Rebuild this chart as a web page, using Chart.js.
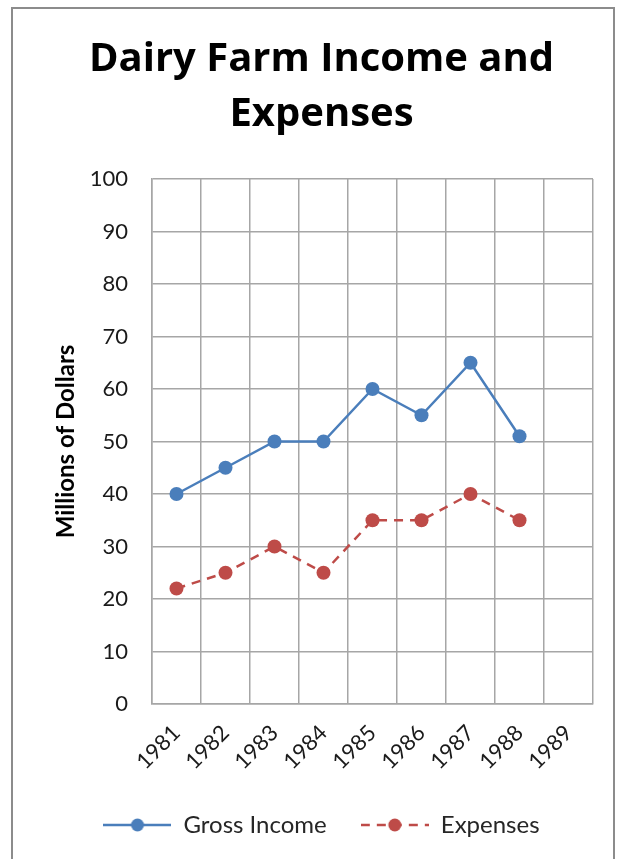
<!DOCTYPE html>
<html>
<head>
<meta charset="utf-8">
<script src="https://cdn.jsdelivr.net/npm/chart.js@4/dist/chart.umd.min.js"></script>
<style>
  html, body { margin: 0; padding: 0; background: #ffffff; }
  #wrap { position: relative; width: 626px; height: 859px; overflow: hidden; }
  #frame { position: absolute; left: 11px; top: 7px; width: 600px; height: 900px; border: 2px solid #8c8c8c; pointer-events: none; }
  #chart { position: absolute; left: 0; top: 0; }
</style>
</head>
<body>
<div id="wrap">
  <canvas id="chart" width="626" height="859"></canvas>
  <div id="frame"></div>
</div>
<script>
// Chart data
const years = ['1981', '1982', '1983', '1984', '1985', '1986', '1987', '1988', '1989'];
const grossIncome = [40, 45, 50, 50, 60, 55, 65, 51, null];
const expenses = [22, 25, 30, 25, 35, 35, 40, 35, null];
const seriesNames = ['Gross Income', 'Expenses'];
const titleLines = ['Dairy Farm Income and', 'Expenses'];

const BLUE = '#4A7EBB';
const RED = '#BE4B48';
const GRID = '#a6a6a6';

// Small legend marker: line + dot, like the spreadsheet legend
function legendMarker(color, dashed) {
    const c = document.createElement('canvas');
    c.width = 68;
    c.height = 16;
    const g = c.getContext('2d');
    g.strokeStyle = color;
    g.lineWidth = 2.5;
    if (dashed) g.setLineDash([9, 7]);
    g.beginPath();
    g.moveTo(0, 8);
    g.lineTo(68, 8);
    g.stroke();
    g.setLineDash([]);
    g.fillStyle = color;
    g.beginPath();
    g.arc(34, 8, 6.5, 0, Math.PI * 2);
    g.fill();
    return c;
}

function initializeDairyChart(chartId) {
    const canvas = document.getElementById(chartId);
    if (!canvas) {
        console.error('Chart canvas not found:', chartId);
        return;
    }
    const ctx = canvas.getContext('2d');

    new Chart(ctx, {
        type: 'line',
        data: {
            labels: years,
            datasets: [{
                label: seriesNames[0],
                data: grossIncome,
                borderColor: BLUE,
                backgroundColor: BLUE,
                borderWidth: 2.5,
                pointRadius: 7,
                pointBorderWidth: 0,
                pointStyle: 'circle',
                tension: 0
            }, {
                label: seriesNames[1],
                data: expenses,
                borderColor: RED,
                backgroundColor: RED,
                borderWidth: 2.5,
                borderDash: [9, 7],
                pointRadius: 7,
                pointBorderWidth: 0,
                pointStyle: 'circle',
                tension: 0
            }]
        },
        options: {
            responsive: false,
            animation: false,
            layout: {
                padding: { left: 50, right: 33, top: 0, bottom: 12 }
            },
            scales: {
                x: {
                    offset: true,
                    grid: {
                        offset: true,
                        color: GRID,
                        lineWidth: 1.5,
                        drawTicks: false
                    },
                    border: { color: GRID, width: 1.5 },
                    ticks: {
                        maxRotation: 45,
                        minRotation: 45,
                        padding: 16,
                        color: '#1a1a1a',
                        font: { family: 'Lato', size: 22 }
                    },
                    afterFit: function(scale) { scale.height = 75; }
                },
                y: {
                    min: 0,
                    max: 100,
                    ticks: {
                        stepSize: 10,
                        padding: 24,
                        color: '#1a1a1a',
                        font: { family: 'Lato', size: 22 }
                    },
                    grid: {
                        color: GRID,
                        lineWidth: 1.5,
                        drawTicks: false
                    },
                    border: { color: GRID, width: 1.5 },
                    title: {
                        display: true,
                        text: 'Millions of Dollars',
                        color: '#000000',
                        padding: { top: 2, bottom: 0 },
                        font: { family: 'Lato', size: 24, weight: 'bold' }
                    },
                    afterFit: function(scale) { scale.width = 102; }
                }
            },
            plugins: {
                title: {
                    display: true,
                    text: titleLines,
                    color: '#000000',
                    padding: { top: 32, bottom: 37 },
                    font: { family: 'Open Sans', size: 40, weight: 'bold', lineHeight: 1.375 }
                },
                legend: {
                    position: 'bottom',
                    labels: {
                        usePointStyle: true,
                        pointStyleWidth: 68,
                        boxHeight: 16,
                        padding: 34,
                        color: '#262626',
                        font: { family: 'Lato', size: 24 },
                        generateLabels: function(chart) {
                            return chart.data.datasets.map(function(ds, i) {
                                return {
                                    text: ds.label,
                                    pointStyle: legendMarker(ds.borderColor, i === 1),
                                    fillStyle: ds.borderColor,
                                    strokeStyle: ds.borderColor,
                                    lineWidth: 0,
                                    hidden: false,
                                    datasetIndex: i,
                                    fontColor: '#262626'
                                };
                            });
                        }
                    }
                },
                tooltip: { enabled: false }
            }
        }
    });
}

initializeDairyChart('chart');
</script>
</body>
</html>
